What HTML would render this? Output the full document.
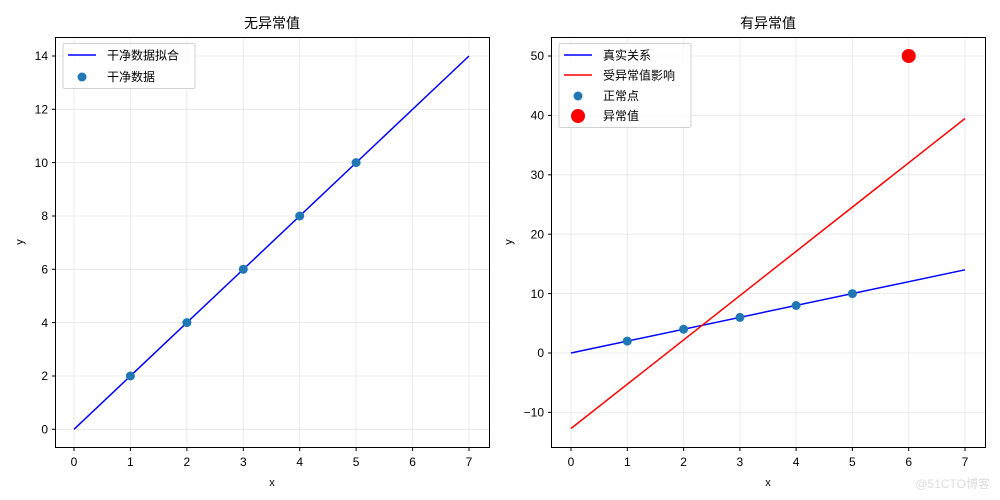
<!DOCTYPE html>
<html><head><meta charset="utf-8"><style>body{margin:0;background:#fff}svg{display:block}text{font-family:"Liberation Sans","Noto Sans CJK SC",sans-serif;font-size:12px;fill:#000}</style></head><body>
<svg width="1000" height="500" viewBox="0 0 1000 500" xmlns="http://www.w3.org/2000/svg">
<!-- Left -->
<g stroke="#e6e6e6" stroke-width="0.8">
<line x1="74" y1="37.5" x2="74" y2="447.5"/><line x1="130.4" y1="37.5" x2="130.4" y2="447.5"/><line x1="186.9" y1="37.5" x2="186.9" y2="447.5"/><line x1="243.3" y1="37.5" x2="243.3" y2="447.5"/><line x1="299.7" y1="37.5" x2="299.7" y2="447.5"/><line x1="356.1" y1="37.5" x2="356.1" y2="447.5"/><line x1="412.6" y1="37.5" x2="412.6" y2="447.5"/><line x1="469" y1="37.5" x2="469" y2="447.5"/>
<line x1="55.5" y1="429.3" x2="489.5" y2="429.3"/><line x1="55.5" y1="376" x2="489.5" y2="376"/><line x1="55.5" y1="322.6" x2="489.5" y2="322.6"/><line x1="55.5" y1="269.3" x2="489.5" y2="269.3"/><line x1="55.5" y1="216" x2="489.5" y2="216"/><line x1="55.5" y1="162.6" x2="489.5" y2="162.6"/><line x1="55.5" y1="109.3" x2="489.5" y2="109.3"/><line x1="55.5" y1="56" x2="489.5" y2="56"/>
</g>
<line x1="74" y1="429.3" x2="469" y2="56" stroke="#0000ff" stroke-width="1.5"/>
<g fill="#1f77b4"><circle cx="130.4" cy="376" r="4.5"/><circle cx="186.9" cy="322.6" r="4.5"/><circle cx="243.3" cy="269.3" r="4.5"/><circle cx="299.7" cy="216" r="4.5"/><circle cx="356.1" cy="162.6" r="4.5"/></g>
<rect x="55.5" y="37.5" width="434" height="410" fill="none" stroke="#000" stroke-width="1"/>
<g stroke="#000"><line x1="74" y1="447.5" x2="74" y2="451"/><line x1="130.4" y1="447.5" x2="130.4" y2="451"/><line x1="186.9" y1="447.5" x2="186.9" y2="451"/><line x1="243.3" y1="447.5" x2="243.3" y2="451"/><line x1="299.7" y1="447.5" x2="299.7" y2="451"/><line x1="356.1" y1="447.5" x2="356.1" y2="451"/><line x1="412.6" y1="447.5" x2="412.6" y2="451"/><line x1="469" y1="447.5" x2="469" y2="451"/>
<line x1="52" y1="429.3" x2="55.5" y2="429.3"/><line x1="52" y1="376" x2="55.5" y2="376"/><line x1="52" y1="322.6" x2="55.5" y2="322.6"/><line x1="52" y1="269.3" x2="55.5" y2="269.3"/><line x1="52" y1="216" x2="55.5" y2="216"/><line x1="52" y1="162.6" x2="55.5" y2="162.6"/><line x1="52" y1="109.3" x2="55.5" y2="109.3"/><line x1="52" y1="56" x2="55.5" y2="56"/></g>
<g text-anchor="middle"><text x="74" y="466">0</text><text x="130.4" y="466">1</text><text x="186.9" y="466">2</text><text x="243.3" y="466">3</text><text x="299.7" y="466">4</text><text x="356.1" y="466">5</text><text x="412.6" y="466">6</text><text x="469" y="466">7</text></g>
<g text-anchor="end"><text x="48" y="433.5">0</text><text x="48" y="380">2</text><text x="48" y="327">4</text><text x="48" y="273.5">6</text><text x="48" y="220">8</text><text x="48" y="167">10</text><text x="48" y="113.5">12</text><text x="48" y="60">14</text></g>
<text x="272" y="486" text-anchor="middle" style="font-size:11px">x</text>
<text x="23" y="242" text-anchor="middle" transform="rotate(-90 23 242)" style="font-size:11px">y</text>
<text x="272" y="28" text-anchor="middle" style="font-size:14px">无异常值</text>
<rect x="63" y="43.5" width="132" height="45" rx="2" fill="#fff" fill-opacity="0.8" stroke="#d0d0d0"/>
<line x1="68" y1="55" x2="96" y2="55" stroke="#0000ff" stroke-width="1.5"/>
<circle cx="82" cy="77" r="4.5" fill="#1f77b4"/>
<text x="107" y="59.5">干净数据拟合</text><text x="107" y="81">干净数据</text>
<!-- Right -->
<g stroke="#e6e6e6" stroke-width="0.8">
<line x1="571" y1="37.5" x2="571" y2="447.5"/><line x1="627.3" y1="37.5" x2="627.3" y2="447.5"/><line x1="683.6" y1="37.5" x2="683.6" y2="447.5"/><line x1="739.9" y1="37.5" x2="739.9" y2="447.5"/><line x1="796.1" y1="37.5" x2="796.1" y2="447.5"/><line x1="852.4" y1="37.5" x2="852.4" y2="447.5"/><line x1="908.7" y1="37.5" x2="908.7" y2="447.5"/><line x1="965" y1="37.5" x2="965" y2="447.5"/>
<line x1="551.5" y1="412.4" x2="985.5" y2="412.4"/><line x1="551.5" y1="353" x2="985.5" y2="353"/><line x1="551.5" y1="293.6" x2="985.5" y2="293.6"/><line x1="551.5" y1="234.2" x2="985.5" y2="234.2"/><line x1="551.5" y1="174.8" x2="985.5" y2="174.8"/><line x1="551.5" y1="115.4" x2="985.5" y2="115.4"/><line x1="551.5" y1="56" x2="985.5" y2="56"/>
</g>
<line x1="571" y1="353" x2="965" y2="269.8" stroke="#0000ff" stroke-width="1.5"/>
<line x1="571" y1="428.5" x2="965" y2="118.5" stroke="#ff0000" stroke-width="1.5"/>
<g fill="#1f77b4"><circle cx="627.3" cy="341.1" r="4.5"/><circle cx="683.6" cy="329.2" r="4.5"/><circle cx="739.9" cy="317.4" r="4.5"/><circle cx="796.1" cy="305.5" r="4.5"/><circle cx="852.4" cy="293.6" r="4.5"/></g>
<circle cx="908.7" cy="56" r="7" fill="#ff0000"/>
<rect x="551.5" y="37.5" width="434" height="410" fill="none" stroke="#000" stroke-width="1"/>
<g stroke="#000"><line x1="571" y1="447.5" x2="571" y2="451"/><line x1="627.3" y1="447.5" x2="627.3" y2="451"/><line x1="683.6" y1="447.5" x2="683.6" y2="451"/><line x1="739.9" y1="447.5" x2="739.9" y2="451"/><line x1="796.1" y1="447.5" x2="796.1" y2="451"/><line x1="852.4" y1="447.5" x2="852.4" y2="451"/><line x1="908.7" y1="447.5" x2="908.7" y2="451"/><line x1="965" y1="447.5" x2="965" y2="451"/>
<line x1="548" y1="412.4" x2="551.5" y2="412.4"/><line x1="548" y1="353" x2="551.5" y2="353"/><line x1="548" y1="293.6" x2="551.5" y2="293.6"/><line x1="548" y1="234.2" x2="551.5" y2="234.2"/><line x1="548" y1="174.8" x2="551.5" y2="174.8"/><line x1="548" y1="115.4" x2="551.5" y2="115.4"/><line x1="548" y1="56" x2="551.5" y2="56"/></g>
<g text-anchor="middle"><text x="571" y="466">0</text><text x="627.3" y="466">1</text><text x="683.6" y="466">2</text><text x="739.9" y="466">3</text><text x="796.1" y="466">4</text><text x="852.4" y="466">5</text><text x="908.7" y="466">6</text><text x="965" y="466">7</text></g>
<g text-anchor="end"><text x="544" y="416.5">−10</text><text x="544" y="357">0</text><text x="544" y="298">10</text><text x="544" y="238.5">20</text><text x="544" y="179">30</text><text x="544" y="119.5">40</text><text x="544" y="60">50</text></g>
<text x="768" y="486" text-anchor="middle" style="font-size:11px">x</text>
<text x="512" y="242" text-anchor="middle" transform="rotate(-90 512 242)" style="font-size:11px">y</text>
<text x="768" y="28" text-anchor="middle" style="font-size:14px">有异常值</text>
<rect x="559" y="43.5" width="132" height="84" rx="2" fill="#fff" fill-opacity="0.8" stroke="#d0d0d0"/>
<line x1="564" y1="55" x2="592" y2="55" stroke="#0000ff" stroke-width="1.5"/>
<line x1="564" y1="75" x2="592" y2="75" stroke="#ff0000" stroke-width="1.5"/>
<circle cx="578" cy="96" r="4.5" fill="#1f77b4"/>
<circle cx="578" cy="116" r="7" fill="#ff0000"/>
<text x="603" y="59.5">真实关系</text><text x="603" y="79.5">受异常值影响</text><text x="603" y="100">正常点</text><text x="603" y="120">异常值</text>
<text x="990" y="488" text-anchor="end" style="font-size:12px;fill:#dddddd">@51CTO博客</text>
</svg>
</body></html>
